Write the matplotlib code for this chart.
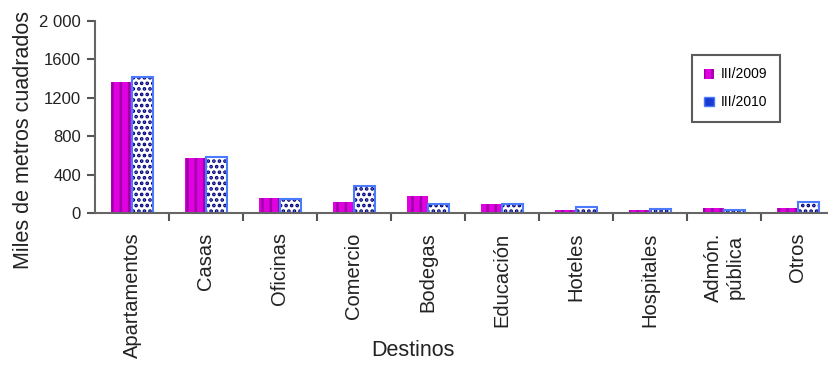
import numpy as np
import matplotlib
matplotlib.use('Agg')
from matplotlib import pyplot as plt

destinos = ['Apartamentos', 'Casas', 'Oficinas', 'Comercio', 'Bodegas',
            'Educación', 'Hoteles', 'Hospitales', 'Admón.\npública', 'Otros']
iii_2009 = [1360, 570, 155, 114, 176, 93, 31, 31, 52, 52]
iii_2010 = [1415, 585, 150, 277, 90, 90, 65, 45, 28, 115]

plt.rcParams['font.family'] = ['Liberation Sans', 'DejaVu Sans']
plt.rcParams['hatch.linewidth'] = 1.8

fig = plt.figure(figsize=(8.29, 3.65), dpi=100)
ax = fig.add_axes([95/829, 1-213/365, 740/829, 192/365])

x = np.arange(len(destinos))
w = 0.29

# III/2009 - magenta with stripes
ax.bar(x - w/2, iii_2009, w, color='#E000E0', edgecolor='#A000A8',
       hatch='||', linewidth=0, label='III/2009')
# III/2010 - white with navy dots, blue outline
ax.bar(x + w/2, iii_2010, w, color='white', edgecolor='#000080',
       hatch='...', linewidth=0)
ax.bar(x + w/2, iii_2010, w, color='none', edgecolor='#4A7BFF',
       linewidth=1.5)
h2 = plt.Rectangle((0, 0), 1, 1, facecolor='#1A3AD0', edgecolor='#4A7BFF',
                   linewidth=1)

ax.set_xlim(-0.5, len(destinos) - 0.5)
ax.set_ylim(0, 2000)
ax.set_yticks([0, 400, 800, 1200, 1600, 2000])
ax.set_yticklabels(['0', '400', '800', '1200', '1600', '2 000'], fontsize=12, color='#222222')

ax.set_xticks(x)
ax.set_xticklabels(destinos, rotation=90, fontsize=14.5, color='#222222',
                   va='top', ha='center')
ax.set_xticks(np.arange(len(destinos)) + 0.5, minor=True)
ax.tick_params(axis='x', which='major', length=0, pad=14)
ax.tick_params(axis='x', which='minor', length=6, width=1.5, color='#555555', direction='out')
ax.tick_params(axis='y', length=6, width=1.5, color='#555555', direction='out', pad=4)

for s in ['top', 'right']:
    ax.spines[s].set_visible(False)
for s in ['left', 'bottom']:
    ax.spines[s].set_color('#666666')
    ax.spines[s].set_linewidth(1.5)

fig.text(24/829, 1-140/365, 'Miles de metros cuadrados', fontsize=15.5,
         color='#222222', rotation=90, ha='center', va='center')
fig.text(413/829, 1-350/365, 'Destinos', fontsize=15.5, color='#222222',
         ha='center', va='center')

handles, labels = ax.get_legend_handles_labels()
leg = fig.legend([handles[0], h2], ['III/2009', 'III/2010'],
                 loc='upper left', bbox_to_anchor=(692/829, 1-55/365),
                 fontsize=10, frameon=True, fancybox=False,
                 handlelength=0.7, handleheight=0.7, handletextpad=0.5,
                 borderpad=0.9, labelspacing=1.0, borderaxespad=0)
leg.get_frame().set_edgecolor('#333333')
leg.get_frame().set_linewidth(1.5)

fig.savefig('out.png', dpi=100)
